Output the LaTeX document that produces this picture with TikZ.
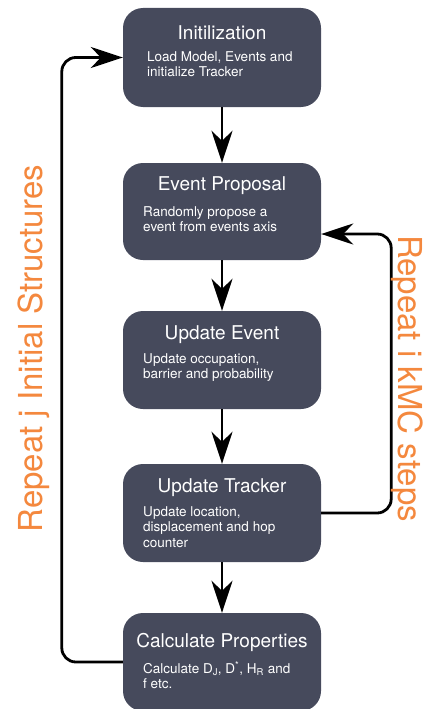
\documentclass[tikz,border=0pt]{standalone}
\usepackage{fontspec}
\setmainfont{TeX Gyre Heros}
\usetikzlibrary{arrows.meta,calc}
\definecolor{boxcol}{HTML}{464A5C}
\definecolor{loopcol}{HTML}{F4883E}
\tikzset{
  stepbox/.style={draw=none, fill=boxcol, rounded corners=20pt, minimum width=198pt, minimum height=98pt, inner sep=0pt},
  titletext/.style={text=white, font=\fontsize{19}{22}\selectfont, inner sep=0pt, anchor=base},
  bodytext/.style={text=white, font=\fontsize{13.5}{15.5}\selectfont, inner sep=0pt, anchor=north west, align=left},
  looptext/.style={text=loopcol, font=\fontsize{33}{36}\selectfont, inner sep=0pt, anchor=base},
  flow/.style={line width=2.8pt, -{Stealth[length=32pt, width=21pt, inset=10pt]}},
}
\begin{document}
\begin{tikzpicture}[x=1pt, y=-1pt]
\useasboundingbox (0,0) rectangle (430,709);
\node[stepbox, minimum height=99pt] (b1) at (222,57.5) {};
\node[stepbox, minimum height=97pt] (b2) at (222,211.5) {};
\node[stepbox] (b3) at (222,360) {};
\node[stepbox] (b4) at (222,513) {};
\node[stepbox] (b5) at (222,662) {};

\node[titletext] (t1) at (222,40) {Initilization};
\node[titletext] (t2) at (222,190) {Event Proposal};
\node[titletext] (t3) at (222,339) {Update Event};
\node[titletext] (t4) at (222,492) {Update Tracker};
\node[titletext] (t5) at (222,647) {Calculate Properties};

\node[bodytext] (d1) at (147,51) {Load Model, Events and\\initialize Tracker};
\node[bodytext] (d2) at (143,206) {Randomly propose a\\event from events axis};
\node[bodytext] (d3) at (143,353) {Update occupation,\\barrier and probability};
\node[bodytext] (d4) at (143,506) {Update location,\\displacement and hop\\counter};
\node[bodytext] (d5) at (143,661) {Calculate D\textsubscript{J}, D\textsuperscript{*}, H\textsubscript{R} and\\f etc.};

\draw[flow] (b1.south) -- (b2.north);
\draw[flow] (b2.south) -- (b3.north);
\draw[flow] (b3.south) -- (b4.north);
\draw[flow] (b4.south) -- (b5.north);

\draw[flow, rounded corners=14pt] (b5.west) -- ++(-61,0) |- (b1.west);
\draw[flow, rounded corners=14pt] (b4.east) -- ++(70,0) |- ($(b2.east)+(0,22.5)$);

\node[looptext, rotate=90] (l1) at (42,348.5) {Repeat j Initial Structures};
\node[looptext, rotate=-90] (l2) at (398,378.5) {Repeat i kMC steps};
\end{tikzpicture}
\end{document}
